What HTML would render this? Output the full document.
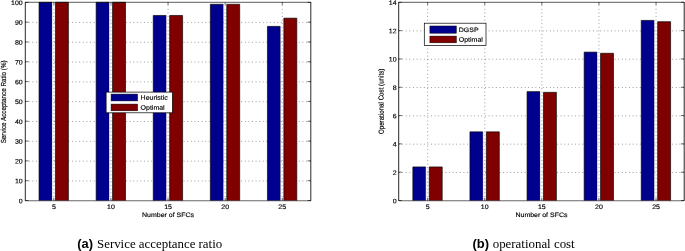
<!DOCTYPE html>
<html><head><meta charset="utf-8"><title>Figure</title>
<style>
html,body{margin:0;padding:0;background:#fff;}
svg{display:block;}
svg text{font-family:"Liberation Sans",sans-serif;fill:#000;stroke:#000;stroke-width:0.15px;}
</style></head>
<body>
<svg width="685" height="251" viewBox="0 0 685 251">
<rect width="685" height="251" fill="#fff"/>
<rect x="25.3" y="2.3" width="285.50" height="198.20" fill="#fff"/>
<path d="M53.85 200.5 V2.3 M110.95 200.5 V2.3 M168.05 200.5 V2.3 M225.15 200.5 V2.3 M282.25 200.5 V2.3 M25.3 180.98 H310.8 M25.3 161.16 H310.8 M25.3 141.34 H310.8 M25.3 121.52 H310.8 M25.3 101.70 H310.8 M25.3 81.88 H310.8 M25.3 62.06 H310.8 M25.3 42.24 H310.8 M25.3 22.42 H310.8" stroke="#000" stroke-opacity="0.8" stroke-width="0.6" stroke-dasharray="0.8 2.8" fill="none"/>
<rect x="39.05" y="2.30" width="12.90" height="198.30" fill="#00008F"/>
<path d="M39.05 200.60 V2.30 H51.95" fill="none" stroke="#000" stroke-width="0.65"/>
<path d="M51.95 2.30 V200.60" fill="none" stroke="#000" stroke-opacity="0.45" stroke-width="0.5"/>
<rect x="55.45" y="2.30" width="12.95" height="198.30" fill="#800000"/>
<path d="M55.45 200.60 V2.30 H68.40 V200.60" fill="none" stroke="#000" stroke-width="0.65"/>
<rect x="96.15" y="2.30" width="12.90" height="198.30" fill="#00008F"/>
<path d="M96.15 200.60 V2.30 H109.05" fill="none" stroke="#000" stroke-width="0.65"/>
<path d="M109.05 2.30 V200.60" fill="none" stroke="#000" stroke-opacity="0.45" stroke-width="0.5"/>
<rect x="112.55" y="2.30" width="12.95" height="198.30" fill="#800000"/>
<path d="M112.55 200.60 V2.30 H125.50 V200.60" fill="none" stroke="#000" stroke-width="0.65"/>
<rect x="153.25" y="15.48" width="12.90" height="185.12" fill="#00008F"/>
<path d="M153.25 200.60 V15.48 H166.15" fill="none" stroke="#000" stroke-width="0.65"/>
<path d="M166.15 15.48 V200.60" fill="none" stroke="#000" stroke-opacity="0.45" stroke-width="0.5"/>
<rect x="169.65" y="15.48" width="12.95" height="185.12" fill="#800000"/>
<path d="M169.65 200.60 V15.48 H182.60 V200.60" fill="none" stroke="#000" stroke-width="0.65"/>
<rect x="210.35" y="4.28" width="12.90" height="196.32" fill="#00008F"/>
<path d="M210.35 200.60 V4.28 H223.25" fill="none" stroke="#000" stroke-width="0.65"/>
<path d="M223.25 4.28 V200.60" fill="none" stroke="#000" stroke-opacity="0.45" stroke-width="0.5"/>
<rect x="226.75" y="4.28" width="12.95" height="196.32" fill="#800000"/>
<path d="M226.75 200.60 V4.28 H239.70 V200.60" fill="none" stroke="#000" stroke-width="0.65"/>
<rect x="267.45" y="26.38" width="12.90" height="174.22" fill="#00008F"/>
<path d="M267.45 200.60 V26.38 H280.35" fill="none" stroke="#000" stroke-width="0.65"/>
<path d="M280.35 26.38 V200.60" fill="none" stroke="#000" stroke-opacity="0.45" stroke-width="0.5"/>
<rect x="283.85" y="18.16" width="12.95" height="182.44" fill="#800000"/>
<path d="M283.85 200.60 V18.16 H296.80 V200.60" fill="none" stroke="#000" stroke-width="0.65"/>
<path d="M25.3 1.9999999999999998 V200.8 M310.8 1.9999999999999998 V200.8" fill="none" stroke="#000" stroke-width="0.85"/>
<path d="M25.3 2.3 H310.8" fill="none" stroke="#000" stroke-width="0.65"/>
<path d="M25.3 200.75 H310.8" fill="none" stroke="#000" stroke-opacity="0.6" stroke-width="1.0"/>
<text transform="translate(53.85,208.90) scale(1.094,1) rotate(0.1)" text-anchor="middle" font-size="6.4" >5</text>
<text transform="translate(110.95,208.90) scale(1.094,1) rotate(0.1)" text-anchor="middle" font-size="6.4" >10</text>
<text transform="translate(168.05,208.90) scale(1.094,1) rotate(0.1)" text-anchor="middle" font-size="6.4" >15</text>
<text transform="translate(225.15,208.90) scale(1.094,1) rotate(0.1)" text-anchor="middle" font-size="6.4" >20</text>
<text transform="translate(282.25,208.90) scale(1.094,1) rotate(0.1)" text-anchor="middle" font-size="6.4" >25</text>
<text transform="translate(22.70,203.20) scale(1.094,1) rotate(0.1)" text-anchor="end" font-size="6.4" >0</text>
<text transform="translate(22.70,183.38) scale(1.094,1) rotate(0.1)" text-anchor="end" font-size="6.4" >10</text>
<text transform="translate(22.70,163.56) scale(1.094,1) rotate(0.1)" text-anchor="end" font-size="6.4" >20</text>
<text transform="translate(22.70,143.74) scale(1.094,1) rotate(0.1)" text-anchor="end" font-size="6.4" >30</text>
<text transform="translate(22.70,123.92) scale(1.094,1) rotate(0.1)" text-anchor="end" font-size="6.4" >40</text>
<text transform="translate(22.70,104.10) scale(1.094,1) rotate(0.1)" text-anchor="end" font-size="6.4" >50</text>
<text transform="translate(22.70,84.28) scale(1.094,1) rotate(0.1)" text-anchor="end" font-size="6.4" >60</text>
<text transform="translate(22.70,64.46) scale(1.094,1) rotate(0.1)" text-anchor="end" font-size="6.4" >70</text>
<text transform="translate(22.70,44.64) scale(1.094,1) rotate(0.1)" text-anchor="end" font-size="6.4" >80</text>
<text transform="translate(22.70,24.82) scale(1.094,1) rotate(0.1)" text-anchor="end" font-size="6.4" >90</text>
<text transform="translate(22.70,5.00) scale(1.094,1) rotate(0.1)" text-anchor="end" font-size="6.4" >100</text>
<path d="M53.85 200.5 v-2.6 M53.85 2.3 v2.6 M110.95 200.5 v-2.6 M110.95 2.3 v2.6 M168.05 200.5 v-2.6 M168.05 2.3 v2.6 M225.15 200.5 v-2.6 M225.15 2.3 v2.6 M282.25 200.5 v-2.6 M282.25 2.3 v2.6 M25.3 200.50 h3.2 M310.8 200.50 h-3.2 M25.3 180.68 h3.2 M310.8 180.68 h-3.2 M25.3 160.86 h3.2 M310.8 160.86 h-3.2 M25.3 141.04 h3.2 M310.8 141.04 h-3.2 M25.3 121.22 h3.2 M310.8 121.22 h-3.2 M25.3 101.40 h3.2 M310.8 101.40 h-3.2 M25.3 81.58 h3.2 M310.8 81.58 h-3.2 M25.3 61.76 h3.2 M310.8 61.76 h-3.2 M25.3 41.94 h3.2 M310.8 41.94 h-3.2 M25.3 22.12 h3.2 M310.8 22.12 h-3.2 M25.3 2.30 h3.2 M310.8 2.30 h-3.2" stroke="#000" stroke-width="0.6" fill="none"/>
<text transform="translate(168.05,217.00) scale(1.094,1) rotate(0.1)" text-anchor="middle" font-size="6.4" >Number of SFCs</text>
<text transform="translate(6.00,101.90) scale(1.136,0.981) rotate(-90.1)" text-anchor="middle" font-size="6.4" >Service Acceptance Ratio (%)</text>
<rect x="106.1" y="92.1" width="66.30" height="20.70" fill="#fff" stroke="#000" stroke-width="0.7"/>
<rect x="111.1" y="94.1" width="26.50" height="6.80" fill="#00008F" stroke="#000" stroke-width="0.5"/>
<rect x="111.1" y="104.1" width="26.50" height="6.70" fill="#800000" stroke="#000" stroke-width="0.5"/>
<text transform="translate(140.60,99.80) scale(1.094,1) rotate(0.1)" text-anchor="start" font-size="6.4" >Heuristic</text>
<text transform="translate(140.60,109.75) scale(1.094,1) rotate(0.1)" text-anchor="start" font-size="6.4" >Optimal</text>
<rect x="398.7" y="2.3" width="285.50" height="198.20" fill="#fff"/>
<path d="M427.65 200.5 V2.3 M484.75 200.5 V2.3 M541.85 200.5 V2.3 M598.95 200.5 V2.3 M656.05 200.5 V2.3 M398.7 172.49 H684.2 M398.7 144.17 H684.2 M398.7 115.86 H684.2 M398.7 87.54 H684.2 M398.7 59.23 H684.2 M398.7 30.91 H684.2" stroke="#000" stroke-opacity="0.8" stroke-width="0.6" stroke-dasharray="0.8 2.8" fill="none"/>
<rect x="412.85" y="166.95" width="12.90" height="33.65" fill="#00008F"/>
<path d="M412.85 200.60 V166.95 H425.75" fill="none" stroke="#000" stroke-width="0.65"/>
<path d="M425.75 166.95 V200.60" fill="none" stroke="#000" stroke-opacity="0.45" stroke-width="0.5"/>
<rect x="429.25" y="166.95" width="12.95" height="33.65" fill="#800000"/>
<path d="M429.25 200.60 V166.95 H442.20 V200.60" fill="none" stroke="#000" stroke-width="0.65"/>
<rect x="469.95" y="131.84" width="12.90" height="68.76" fill="#00008F"/>
<path d="M469.95 200.60 V131.84 H482.85" fill="none" stroke="#000" stroke-width="0.65"/>
<path d="M482.85 131.84 V200.60" fill="none" stroke="#000" stroke-opacity="0.45" stroke-width="0.5"/>
<rect x="486.35" y="131.84" width="12.95" height="68.76" fill="#800000"/>
<path d="M486.35 200.60 V131.84 H499.30 V200.60" fill="none" stroke="#000" stroke-width="0.65"/>
<rect x="527.05" y="91.63" width="12.90" height="108.97" fill="#00008F"/>
<path d="M527.05 200.60 V91.63 H539.95" fill="none" stroke="#000" stroke-width="0.65"/>
<path d="M539.95 91.63 V200.60" fill="none" stroke="#000" stroke-opacity="0.45" stroke-width="0.5"/>
<rect x="543.45" y="92.34" width="12.95" height="108.26" fill="#800000"/>
<path d="M543.45 200.60 V92.34 H556.40 V200.60" fill="none" stroke="#000" stroke-width="0.65"/>
<rect x="584.15" y="52.13" width="12.90" height="148.47" fill="#00008F"/>
<path d="M584.15 200.60 V52.13 H597.05" fill="none" stroke="#000" stroke-width="0.65"/>
<path d="M597.05 52.13 V200.60" fill="none" stroke="#000" stroke-opacity="0.45" stroke-width="0.5"/>
<rect x="600.55" y="53.27" width="12.95" height="147.33" fill="#800000"/>
<path d="M600.55 200.60 V53.27 H613.50 V200.60" fill="none" stroke="#000" stroke-width="0.65"/>
<rect x="641.25" y="20.42" width="12.90" height="180.18" fill="#00008F"/>
<path d="M641.25 200.60 V20.42 H654.15" fill="none" stroke="#000" stroke-width="0.65"/>
<path d="M654.15 20.42 V200.60" fill="none" stroke="#000" stroke-opacity="0.45" stroke-width="0.5"/>
<rect x="657.65" y="21.70" width="12.95" height="178.90" fill="#800000"/>
<path d="M657.65 200.60 V21.70 H670.60 V200.60" fill="none" stroke="#000" stroke-width="0.65"/>
<path d="M398.7 1.9999999999999998 V200.8 M684.2 1.9999999999999998 V200.8" fill="none" stroke="#000" stroke-width="0.85"/>
<path d="M398.7 2.3 H684.2" fill="none" stroke="#000" stroke-width="0.65"/>
<path d="M398.7 200.75 H684.2" fill="none" stroke="#000" stroke-opacity="0.6" stroke-width="1.0"/>
<text transform="translate(427.65,208.90) scale(1.094,1) rotate(0.1)" text-anchor="middle" font-size="6.4" >5</text>
<text transform="translate(484.75,208.90) scale(1.094,1) rotate(0.1)" text-anchor="middle" font-size="6.4" >10</text>
<text transform="translate(541.85,208.90) scale(1.094,1) rotate(0.1)" text-anchor="middle" font-size="6.4" >15</text>
<text transform="translate(598.95,208.90) scale(1.094,1) rotate(0.1)" text-anchor="middle" font-size="6.4" >20</text>
<text transform="translate(656.05,208.90) scale(1.094,1) rotate(0.1)" text-anchor="middle" font-size="6.4" >25</text>
<text transform="translate(396.60,203.20) scale(1.094,1) rotate(0.1)" text-anchor="end" font-size="6.4" >0</text>
<text transform="translate(396.60,174.89) scale(1.094,1) rotate(0.1)" text-anchor="end" font-size="6.4" >2</text>
<text transform="translate(396.60,146.57) scale(1.094,1) rotate(0.1)" text-anchor="end" font-size="6.4" >4</text>
<text transform="translate(396.60,118.26) scale(1.094,1) rotate(0.1)" text-anchor="end" font-size="6.4" >6</text>
<text transform="translate(396.60,89.94) scale(1.094,1) rotate(0.1)" text-anchor="end" font-size="6.4" >8</text>
<text transform="translate(396.60,61.63) scale(1.094,1) rotate(0.1)" text-anchor="end" font-size="6.4" >10</text>
<text transform="translate(396.60,33.31) scale(1.094,1) rotate(0.1)" text-anchor="end" font-size="6.4" >12</text>
<text transform="translate(396.60,5.00) scale(1.094,1) rotate(0.1)" text-anchor="end" font-size="6.4" >14</text>
<path d="M427.65 200.5 v-2.6 M427.65 2.3 v2.6 M484.75 200.5 v-2.6 M484.75 2.3 v2.6 M541.85 200.5 v-2.6 M541.85 2.3 v2.6 M598.95 200.5 v-2.6 M598.95 2.3 v2.6 M656.05 200.5 v-2.6 M656.05 2.3 v2.6 M398.7 200.50 h3.2 M684.2 200.50 h-3.2 M398.7 172.19 h3.2 M684.2 172.19 h-3.2 M398.7 143.87 h3.2 M684.2 143.87 h-3.2 M398.7 115.56 h3.2 M684.2 115.56 h-3.2 M398.7 87.24 h3.2 M684.2 87.24 h-3.2 M398.7 58.93 h3.2 M684.2 58.93 h-3.2 M398.7 30.61 h3.2 M684.2 30.61 h-3.2 M398.7 2.30 h3.2 M684.2 2.30 h-3.2" stroke="#000" stroke-width="0.6" fill="none"/>
<text transform="translate(541.45,217.00) scale(1.094,1) rotate(0.1)" text-anchor="middle" font-size="6.4" >Number of SFCs</text>
<text transform="translate(383.60,101.40) scale(1.136,0.969) rotate(-90.1)" text-anchor="middle" font-size="6.4" >Operational Cost (units)</text>
<rect x="424.3" y="23.2" width="61.70" height="22.20" fill="#fff" stroke="#000" stroke-width="0.7"/>
<rect x="429.9" y="26.0" width="26.40" height="7.20" fill="#00008F" stroke="#000" stroke-width="0.5"/>
<rect x="429.9" y="36.1" width="26.40" height="6.70" fill="#800000" stroke="#000" stroke-width="0.5"/>
<text transform="translate(458.80,31.90) scale(1.094,1) rotate(0.1)" text-anchor="start" font-size="6.4" >DGSP</text>
<text transform="translate(458.80,41.75) scale(1.094,1) rotate(0.1)" text-anchor="start" font-size="6.4" >Optimal</text>
<text x="77.2" y="247.8" style="font-family:'Liberation Sans',sans-serif;stroke:none" font-weight="bold" font-size="12.9">(a)</text>
<text x="97.0" y="247.8" style="font-family:'Liberation Serif',serif;stroke:none" font-size="13.4" textLength="125.2" lengthAdjust="spacingAndGlyphs">Service acceptance ratio</text>
<text x="472.5" y="248.1" style="font-family:'Liberation Sans',sans-serif;stroke:none" font-weight="bold" font-size="12.9">(b)</text>
<text x="492.7" y="248.1" style="font-family:'Liberation Serif',serif;stroke:none" font-size="13.4" textLength="82" lengthAdjust="spacingAndGlyphs">operational cost</text>
</svg>
</body></html>
